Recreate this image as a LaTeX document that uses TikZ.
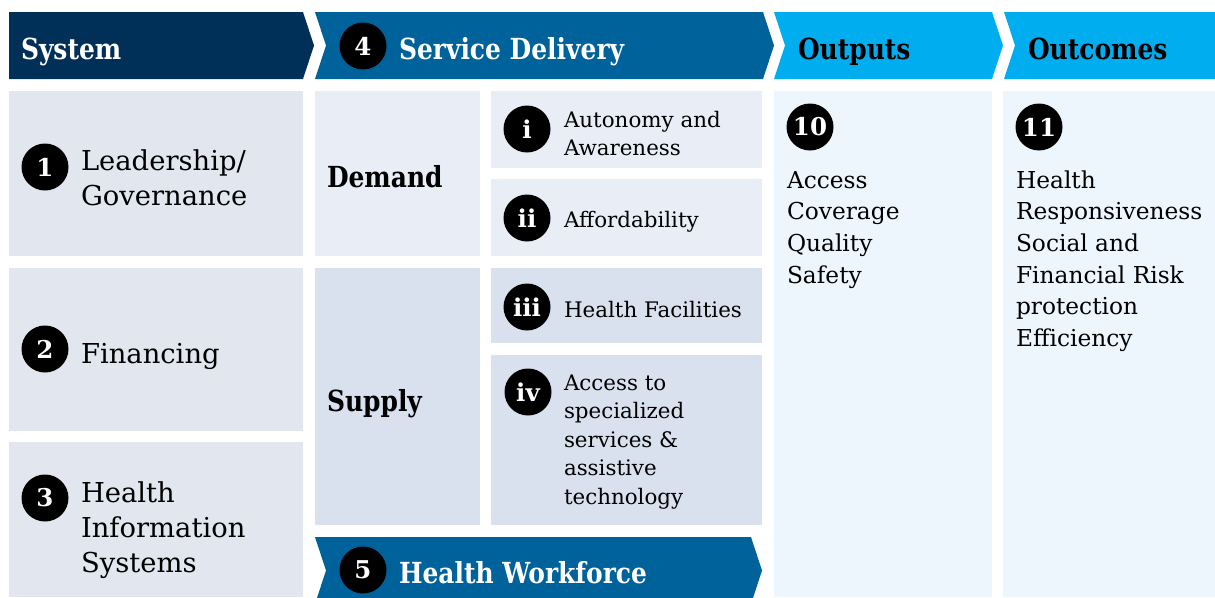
\documentclass[tikz,border=0pt]{standalone}
\usepackage{fontspec}
\setmainfont{DejaVu Serif}[BoldFeatures={FakeStretch=0.86}]
\newfontfamily\badgefont{DejaVu Serif}
% stacked lines whose baseline is the baseline of the first line
\newcommand\linestack[1]{\vtop{\halign{##\hfil\cr#1\crcr}}}
\definecolor{navy}{RGB}{0,48,87}
\definecolor{midblue}{RGB}{0,98,155}
\definecolor{skyblue}{RGB}{0,174,239}
\definecolor{sysbox}{RGB}{226,231,239}
\definecolor{demandbox}{RGB}{232,237,246}
\definecolor{supplybox}{RGB}{217,224,238}
\definecolor{resultbox}{RGB}{238,246,253}
\begin{document}
\begin{tikzpicture}[x=1pt,y=-1pt,
  txt/.style={anchor=base west,inner sep=0pt,outer sep=0pt},
  headtxt/.style={txt,font=\fontsize{29}{35}\selectfont\bfseries},
  subhead/.style={txt,font=\fontsize{29}{35}\selectfont\bfseries},
  bigtxt/.style={txt,font=\fontsize{27.4}{35}\selectfont},
  midtxt/.style={txt,font=\fontsize{23.3}{31.7}\selectfont},
  smalltxt/.style={txt,font=\fontsize{21.4}{28.5}\selectfont},
  badge/.style={circle,fill=black,text=white,minimum size=47pt,inner sep=0pt,
    font=\fontsize{24.5}{24.5}\selectfont\badgefont\bfseries}]
\useasboundingbox (0,0) rectangle (1215,597);
\clip (0,0) rectangle (1215,597);

% header chevrons
\fill[navy] (9,12) -- (303,12) -- (314,45.5) -- (303,79) -- (9,79) -- cycle;
\fill[midblue] (315,12) -- (763,12) -- (774,45.5) -- (763,79) -- (315,79) -- (326,45.5) -- cycle;
\fill[skyblue] (774,12) -- (992,12) -- (1003,45.5) -- (992,79) -- (774,79) -- (785,45.5) -- cycle;
\fill[skyblue] (1004,12) -- (1215,12) -- (1215,79) -- (1004,79) -- (1015,45.5) -- cycle;

% system column
\fill[sysbox] (9,91) rectangle (303,256);
\fill[sysbox] (9,268) rectangle (303,431);
\fill[sysbox] (9,442) rectangle (303,597);

% service delivery blocks
\fill[demandbox] (315,91) rectangle (480,256);
\fill[supplybox] (315,268) rectangle (480,525);
\fill[demandbox] (491,91) rectangle (762,168);
\fill[demandbox] (491,179) rectangle (762,256);
\fill[supplybox] (491,268) rectangle (762,343);
\fill[supplybox] (491,355) rectangle (762,525);

% health workforce chevron
\fill[midblue] (315,537) -- (751,537) -- (762,570.5) -- (751,604) -- (315,604) -- (326,570.5) -- cycle;

% outputs and outcomes columns
\fill[resultbox] (774,91) rectangle (992,597);
\fill[resultbox] (1003,91) rectangle (1215,597);

% header labels
\node[headtxt,text=white] (hsys) at (21,59) {System};
\node[badge] (b4) at (363,46) {4};
\node[headtxt,text=white] (hsd) at (399,59) {Service Delivery};
\node[headtxt] (hout) at (798,59) {Outputs};
\node[headtxt] (hoc) at (1028,59) {Outcomes};

% system building blocks
\node[badge] (b1) at (45,167) {1};
\node[bigtxt] (t1) at (81,170) {\linestack{Leadership/\cr Governance}};
\node[badge] (b2) at (45,349) {2};
\node[bigtxt] (t2) at (81,363) {Financing};
\node[badge] (b3) at (45,498) {3};
\node[bigtxt] (t3) at (81,502) {\linestack{Health\cr Information\cr Systems}};

% demand and supply
\node[subhead] (dem) at (327,187) {Demand};
\node[subhead] (sup) at (327,411) {Supply};
\node[badge] (bi) at (527,129) {i};
\node[smalltxt] (ti) at (564,127) {\linestack{Autonomy and\cr Awareness}};
\node[badge] (bii) at (527,218) {ii};
\node[smalltxt] (tii) at (564,227) {Affordability};
\node[badge] (biii) at (527,307) {iii};
\node[smalltxt] (tiii) at (564,317) {Health Facilities};
\node[badge] (biv) at (528,392) {iv};
\node[smalltxt] (tiv) at (564,390) {\linestack{Access to\cr specialized\cr services \&\cr assistive\cr technology}};

% health workforce label
\node[badge] (b5) at (363,570) {5};
\node[headtxt,text=white] (hwf) at (399,583) {Health Workforce};

% outputs and outcomes
\node[badge] (b10) at (810,127) {10};
\node[midtxt] (tout) at (787,188) {\linestack{Access\cr Coverage\cr Quality\cr Safety}};
\node[badge] (b11) at (1039,127) {11};
\node[midtxt] (toc) at (1016,188) {\linestack{Health\cr Responsiveness\cr Social and\cr Financial Risk\cr protection\cr Efficiency}};
\end{tikzpicture}
\end{document}
